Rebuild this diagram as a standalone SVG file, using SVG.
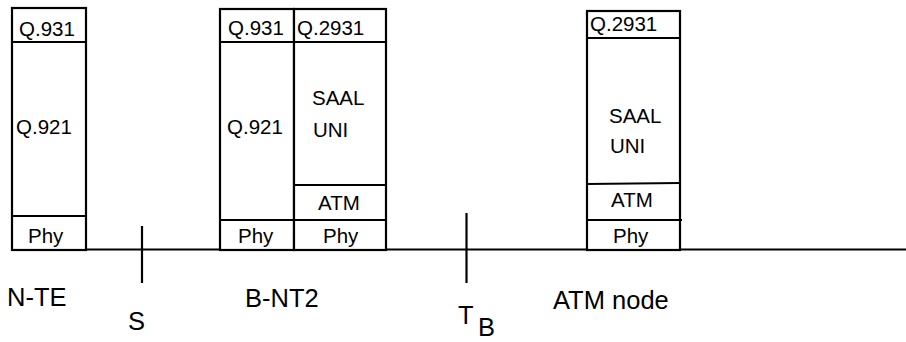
<svg xmlns="http://www.w3.org/2000/svg" width="906" height="342" viewBox="0 0 906 342">
<style>
.box{fill:#fff;stroke:#000;stroke-width:2.2}
.ln{stroke:#000;stroke-width:2.2;fill:none}
.t{font-family:"Liberation Sans",Arial,sans-serif;font-size:20.5px;fill:#000}
.lbl{font-family:"Liberation Sans",Arial,sans-serif;font-size:25.5px;fill:#000}
</style>
<rect width="906" height="342" fill="#fff"/>
<g id="connectors">
<line class="ln" x1="84" y1="249.5" x2="906" y2="249.5" stroke-width="2.5"/>
<line class="ln" x1="142" y1="226" x2="142" y2="283"/>
<line class="ln" x1="466.5" y1="213" x2="466.5" y2="283"/>
</g>
<g id="nte">
<rect class="box" x="12" y="8" width="74" height="242"/>
<line class="ln" x1="12" y1="42" x2="86" y2="42"/>
<line class="ln" x1="12" y1="216" x2="86" y2="216"/>
<text class="t" x="19" y="36">Q.931</text>
<text class="t" x="16" y="134">Q.921</text>
<text class="t" x="28" y="243">Phy</text>
</g>
<g id="bnt2">
<rect class="box" x="220" y="9" width="74" height="241"/>
<rect class="box" x="294" y="9" width="92" height="241"/>
<line class="ln" x1="220" y1="42" x2="386" y2="42"/>
<line class="ln" x1="220" y1="220" x2="386" y2="220"/>
<line class="ln" x1="293" y1="185" x2="386" y2="185"/>
<text class="t" x="228" y="35">Q.931</text>
<text class="t" x="297" y="35">Q.2931</text>
<text class="t" x="227" y="134">Q.921</text>
<text class="t" x="312" y="105">SAAL</text>
<text class="t" x="313" y="137">UNI</text>
<text class="t" x="318" y="210">ATM</text>
<text class="t" x="238" y="243">Phy</text>
<text class="t" x="323" y="243">Phy</text>
</g>
<g id="atmnode">
<rect class="box" x="587" y="11" width="93" height="239"/>
<line class="ln" x1="587" y1="38" x2="680" y2="38"/>
<line class="ln" x1="587" y1="184" x2="680" y2="183"/>
<line class="ln" x1="587" y1="220" x2="682" y2="220"/>
<text class="t" x="590" y="31">Q.2931</text>
<text class="t" x="609" y="123">SAAL</text>
<text class="t" x="610" y="153">UNI</text>
<text class="t" x="611" y="207">ATM</text>
<text class="t" x="613" y="243">Phy</text>
</g>
<g id="labels">
<text class="lbl" x="7" y="306">N-TE</text>
<text class="lbl" x="128" y="330">S</text>
<text class="lbl" x="245" y="307">B-NT2</text>
<text class="lbl" x="458" y="324">T</text>
<text class="lbl" x="478" y="336">B</text>
<text class="lbl" x="553" y="309">ATM node</text>
</g>
</svg>
